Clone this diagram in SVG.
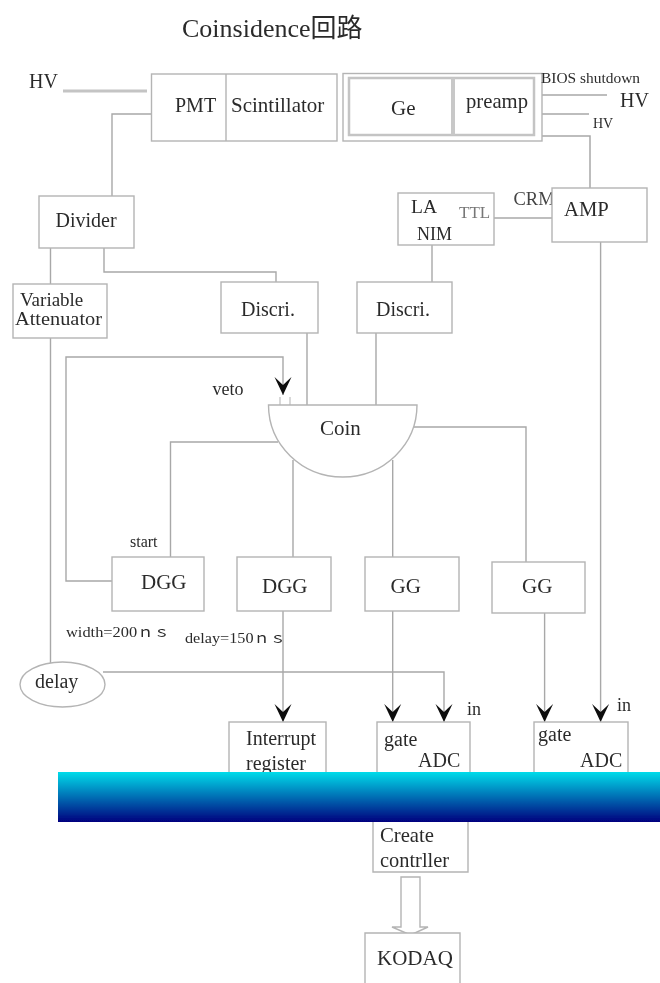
<svg xmlns="http://www.w3.org/2000/svg" width="660" height="983" viewBox="0 0 660 983">
<style>
rect,ellipse,.s{fill:#fff;stroke:#b4b4b4;stroke-width:1.4}
.c path,.c line{fill:none;stroke:#a8a8a8;stroke-width:1.4}
text{font-family:"Liberation Serif","Noto Sans CJK SC",serif;font-size:20px;fill:#2c2c2c}
.sm{font-size:14px}
</style>
<defs>
<filter id="b" x="-2%" y="-2%" width="104%" height="104%"><feGaussianBlur stdDeviation="0.7"/></filter>
<marker id="a" markerUnits="userSpaceOnUse" markerWidth="19" markerHeight="19" refX="18" refY="9.500" orient="auto"><path d="M0 1 L18 9.500 L0 18 L8 9.500Z" fill="#111"/></marker>
<linearGradient id="g" x1="0" y1="0" x2="0" y2="1"><stop offset="0" stop-color="#00dcea"/><stop offset="1" stop-color="#00007e"/></linearGradient>
</defs>
<rect width="660" height="983" style="fill:#fff;stroke:none"/>
<g filter="url(#b)">
<text id="title" x="182" y="37" style="font-size:26px">Coinsidence回路</text>
<g id="connectors" class="c">
<path d="M63 91H147" style="stroke-width:3;stroke:#c4c4c4"/>
<path d="M151 114H112V196"/>
<path d="M50.500 248V284M50.500 338V663"/>
<path d="M104 248V272H276V282"/>
<path d="M542 95H607M542 114H589"/>
<path d="M542 136H590V188" style="stroke-width:1.500"/>
<path d="M494 218H552"/>
<path d="M432 245V282"/>
<path d="M307 333V405M376 333V405"/>
<path d="M278 442H170.500V557"/>
<path d="M414 427H526V562"/>
<path d="M293 460V557M392.700 460V557"/>
<path d="M112 581H66V357H283V395" marker-end="url(#a)"/>
<path d="M280 397V405M290 397V405" style="stroke:#c8c8c8"/>
<path d="M283 611V722" marker-end="url(#a)"/>
<path d="M392.700 611V722" marker-end="url(#a)"/>
<path d="M103 672H444V722" marker-end="url(#a)"/>
<path d="M544.600 613V722" marker-end="url(#a)"/>
<path d="M600.600 242V722" marker-end="url(#a)"/>
<path d="M401 877H420V927H428L410.500 935L392 927H401Z" style="stroke:#b4b4b4"/>
</g>
<text x="29" y="88">HV</text>
<g id="pmt"><rect x="151.500" y="74" width="185.500" height="67"/><line class="s" x1="226" y1="74" x2="226" y2="141"/><text x="175" y="112">PMT</text><text x="231" y="112" style="font-size:21px">Scintillator</text></g>
<g id="ge"><rect x="343" y="73.500" width="199" height="67.500"/><rect x="349" y="78" width="185" height="57" style="stroke-width:2.500;stroke:#c4c4c4"/><line class="s" x1="453" y1="78" x2="453" y2="135" style="stroke-width:4;stroke:#c8c8c8"/><text x="391" y="115" style="font-size:21px">Ge</text><text x="466" y="108" style="font-size:20.700px">preamp</text></g>
<text class="sm" x="541" y="83" textLength="99" lengthAdjust="spacingAndGlyphs">BIOS shutdown</text>
<text x="620" y="107">HV</text>
<text class="sm" x="593" y="128">HV</text>
<g id="divider"><rect x="39" y="196" width="95" height="52"/><text x="55.500" y="227">Divider</text></g>
<g id="la"><rect x="398" y="193" width="96" height="52"/><text x="411" y="213" style="font-size:19.500px">LA</text><text x="459" y="218" style="font-size:17px;fill:#777">TTL</text><text x="417" y="240" style="font-size:18px">NIM</text></g>
<text x="513.500" y="205" style="font-size:18.500px;fill:#444">CRM</text>
<g id="amp"><rect x="552" y="188" width="95" height="54"/><text x="564" y="216" style="font-size:20.700px">AMP</text></g>
<g id="attenuator"><rect x="13" y="284" width="94" height="54"/><text x="20" y="306" style="font-size:19px">Variable</text><text x="15" y="325" style="font-size:19px" textLength="87" lengthAdjust="spacingAndGlyphs">Attenuator</text></g>
<g id="discri1"><rect x="221" y="282" width="97" height="51"/><text x="241" y="316">Discri.</text></g>
<g id="discri2"><rect x="357" y="282" width="95" height="51"/><text x="376" y="316">Discri.</text></g>
<text x="212.500" y="395" style="font-size:18px">veto</text>
<g id="coin"><path class="s" d="M268.500 405H417A74.250 72 0 0 1 268.500 405Z"/><text x="320" y="435" style="font-size:21px">Coin</text></g>
<text x="130" y="547" style="font-size:16px">start</text>
<g id="dgg1"><rect x="112" y="557" width="92" height="54"/><text x="141" y="589" style="font-size:21px">DGG</text></g>
<g id="dgg2"><rect x="237" y="557" width="94" height="54"/><text x="262" y="593" style="font-size:21px">DGG</text></g>
<g id="gg1"><rect x="365" y="557" width="94" height="54"/><text x="390.500" y="593" style="font-size:21px">GG</text></g>
<g id="gg2"><rect x="492" y="562" width="93" height="51"/><text x="522" y="593" style="font-size:21px">GG</text></g>
<text class="sm" x="66" y="637" textLength="104" lengthAdjust="spacingAndGlyphs">width=200ｎｓ</text>
<text class="sm" x="185" y="643" textLength="101" lengthAdjust="spacingAndGlyphs">delay=150ｎｓ</text>
<g id="delay"><ellipse cx="62.500" cy="684.500" rx="42.500" ry="22.500"/><text x="35" y="688" style="font-size:20px">delay</text></g>
<text x="467" y="715" style="font-size:18px">in</text>
<text x="617" y="711" style="font-size:18px">in</text>
<g id="interrupt"><rect x="229" y="722" width="97" height="60"/><text x="246" y="745">Interrupt</text><text x="246" y="770">register</text></g>
<g id="adc1"><rect x="377" y="722" width="93" height="60"/><text x="384" y="746">gate</text><text x="418" y="767">ADC</text></g>
<g id="adc2"><rect x="534" y="722" width="94" height="60"/><text x="538" y="741">gate</text><text x="580" y="767">ADC</text></g>
<rect id="band" x="58" y="772" width="602" height="50" style="fill:url(#g);stroke:none"/>
<g id="create"><path class="s" d="M373 822V872H468V822"/><text x="380" y="842" style="font-size:20.700px">Create</text><text x="380" y="867" style="font-size:20.400px">contrller</text></g>
<g id="kodaq"><path class="s" d="M365 985V933H460V985"/><text x="377" y="965" style="font-size:21px">KODAQ</text></g>
</g>
</svg>
